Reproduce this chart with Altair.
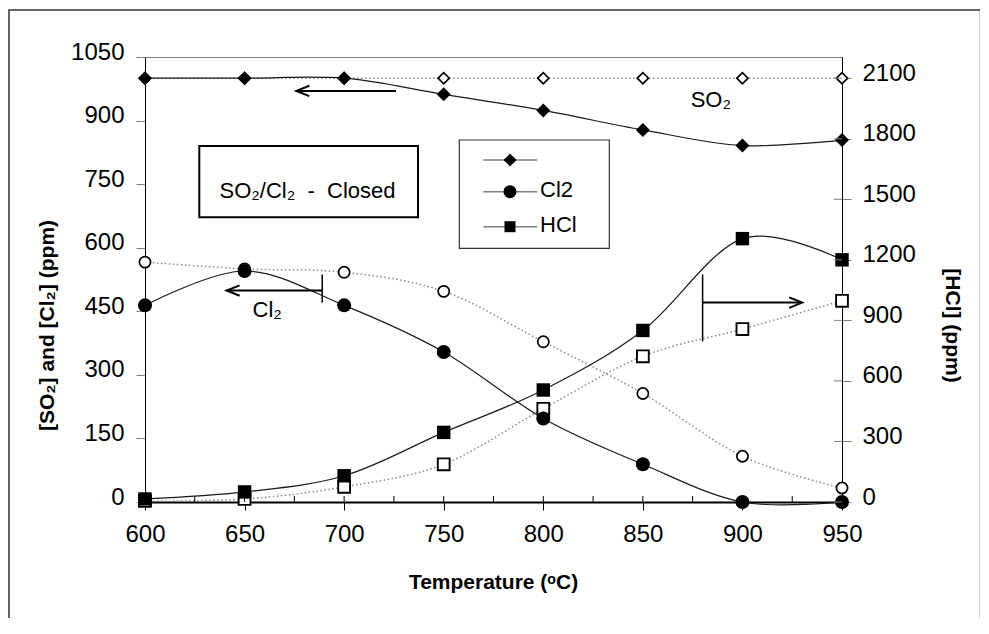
import altair as alt
import pandas as pd

# ---------------- data ----------------
temps = [600, 650, 700, 750, 800, 850, 900, 950]
so2_filled = [1000, 1000, 1000, 962, 924, 878, 841, 854]
so2_hollow = [1000, 1000, 1000, 1000, 1000, 1000, 1000, 1000]
cl2_filled = [464, 545, 464, 354, 197, 89, 0, 0]
cl2_hollow = [566, 550, 542, 497, 378, 256, 108, 33]
hcl_filled = [15, 50, 130, 345, 555, 850, 1305, 1200]
hcl_hollow = [5, 15, 75, 187, 462, 722, 857, 997]

x_ticks = [600, 650, 700, 750, 800, 850, 900, 950]
x_minor = [625, 675, 725, 775, 825, 875, 925]
left_ticks = [0, 150, 300, 450, 600, 750, 900, 1050]
right_ticks = [0, 300, 600, 900, 1200, 1500, 1800, 2100]
x_domain = [600, 950]
left_domain = [0, 1050]
right_domain = [0, 2205]

# annotation arrows (temperature from, temperature to, level)
so2_arrow = {"T": [676], "T2": [726], "v": [970]}
cl2_arrow = {"T": [641], "T2": [689], "v": [499]}
cl2_bar = {"T": [689], "v": [471], "v2": [537]}
hcl_arrow = {"T": [880], "T2": [930], "v": [988]}
hcl_bar = {"T": [880], "v": [796], "v2": [1128]}
ann_text = ["SO\u2082", "Cl\u2082"]
ann_T = [874, 654]
ann_v = [932, 437]

legend_labels = ["", "Cl2", "HCl"]
legend_shapes = ["diamond", "circle", "square"]
legend_sizes = [169, 169, 121]
box_text = "SO\u2082/Cl\u2082\u00a0 -\u00a0 Closed"

FONT = "Liberation Sans, Arial, DejaVu Sans"

# ---------------- frames ----------------
rows = []
for name, f_vals, h_vals in [("SO2", so2_filled, so2_hollow), ("Cl2", cl2_filled, cl2_hollow)]:
    for t, f, h in zip(temps, f_vals, h_vals):
        rows.append({"T": t, "v": f, "series": name, "kind": "filled"})
        rows.append({"T": t, "v": h, "series": name, "kind": "hollow"})
left_df = pd.DataFrame(rows)
hcl_df = pd.DataFrame({"T": temps * 2, "v": hcl_filled + hcl_hollow,
                       "kind": ["filled"] * len(temps) + ["hollow"] * len(temps)})
one = pd.DataFrame({"k": [0]})

x_axis = alt.Axis(values=x_ticks, format="d", title="Temperature (\u1d52C)",
                  tickSize=8, tickColor="black", tickWidth=1,
                  domainColor="black", domainWidth=2,
                  labelFontSize=24, labelPadding=12, labelColor="black",
                  labelFlush=False, labelOverlap=False, grid=False,
                  titleFontSize=21, titleFontWeight="bold", titleColor="black",
                  titleX=348, titleY=80, titleAlign="center", titleBaseline="middle")
left_axis = alt.Axis(values=left_ticks, format="d", orient="left",
                     title="[SO\u2082] and [Cl\u2082] (ppm)",
                     tickSize=9, tickColor="#808080", tickWidth=1,
                     domainColor="black", domainWidth=1,
                     labelFontSize=24, labelPadding=12, labelColor="black", labelOffset=-5,
                     labelOverlap=False, grid=False,
                     titleFontSize=21, titleFontWeight="bold", titleColor="black",
                     titleX=-98, titleY=268, titleAngle=270,
                     titleAlign="center", titleBaseline="middle")
right_axis = alt.Axis(values=right_ticks, format="d", orient="right",
                      title="[HCl] (ppm)",
                      tickSize=9, tickColor="#808080", tickWidth=1,
                      domainColor="black", domainWidth=1,
                      labelFontSize=24, labelPadding=11, labelColor="black", labelOffset=-5,
                      labelOverlap=False, grid=False,
                      titleFontSize=21, titleFontWeight="bold", titleColor="black",
                      titleX=109, titleY=268, titleAngle=90,
                      titleAlign="center", titleBaseline="middle")


def X(field="T"):
    # the same (shared) x axis definition in every layer so that it merges cleanly
    return alt.X(f"{field}:Q", scale=alt.Scale(domain=x_domain, nice=False, zero=False), axis=x_axis)


def YL(field="v", axis=None):
    return alt.Y(f"{field}:Q", scale=alt.Scale(domain=left_domain, nice=False, zero=False), axis=axis)


def YR(field="v", axis=None):
    return alt.Y(f"{field}:Q", scale=alt.Scale(domain=right_domain, nice=False, zero=False), axis=axis)


left_shape = alt.Shape("series:N", scale=alt.Scale(domain=["SO2", "Cl2"], range=["diamond", "circle"]), legend=None)

layers = []

# outer frame (unfilled)
layers.append(alt.Chart(one).mark_rect(fill="white", fillOpacity=0, stroke="#333333", strokeWidth=1.5).encode(
    x=alt.value(-136), x2=alt.value(835.5), y=alt.value(-47), y2=alt.value(640)))

# dotted lines
layers.append(alt.Chart(left_df).transform_filter("datum.kind == 'hollow'").mark_line(
    interpolate="cardinal", color="#8a8a8a", strokeWidth=1.5, strokeDash=[1.5, 2.5]).encode(
    x=X(), y=YL(axis=left_axis), detail="series:N"))
layers.append(alt.Chart(hcl_df).transform_filter("datum.kind == 'hollow'").mark_line(
    interpolate="cardinal", color="#8a8a8a", strokeWidth=1.5, strokeDash=[1.5, 2.5]).encode(
    x=X(), y=YR(axis=right_axis)))

# hollow markers
layers.append(alt.Chart(left_df).transform_filter("datum.kind == 'hollow'").mark_point(
    filled=True, fill="white", stroke="black", strokeWidth=1.7, opacity=1, size=125).encode(
    x=X(), y=YL(), shape=left_shape))
layers.append(alt.Chart(hcl_df).transform_filter("datum.kind == 'hollow'").mark_point(
    shape="square", filled=True, fill="white", stroke="black", strokeWidth=1.9, opacity=1, size=140).encode(
    x=X(), y=YR()))

# solid lines
layers.append(alt.Chart(left_df).transform_filter("datum.kind == 'filled'").mark_line(
    interpolate="cardinal", color="#1a1a1a", strokeWidth=1.2).encode(
    x=X(), y=YL(), detail="series:N"))
layers.append(alt.Chart(hcl_df).transform_filter("datum.kind == 'filled'").mark_line(
    interpolate="cardinal", color="#1a1a1a", strokeWidth=1.2).encode(
    x=X(), y=YR()))

# filled markers
layers.append(alt.Chart(left_df).transform_filter("datum.kind == 'filled'").mark_point(
    filled=True, color="black", opacity=1, size=196).encode(
    x=X(), y=YL(), shape=left_shape))
layers.append(alt.Chart(hcl_df).transform_filter("datum.kind == 'filled'").mark_point(
    shape="square", filled=True, color="black", opacity=1, size=180).encode(
    x=X(), y=YR()))

# minor x ticks (inside) and inner halves of right ticks
layers.append(alt.Chart(pd.DataFrame({"T": x_ticks + x_minor})).mark_tick(
    orient="vertical", size=6, thickness=1, color="black", yOffset=-3, opacity=1).encode(
    x=X(), y=alt.value(445)))
layers.append(alt.Chart(pd.DataFrame({"v": right_ticks})).mark_tick(
    orient="horizontal", size=8, thickness=1, color="#808080", xOffset=-4, opacity=1).encode(
    x=alt.value(697), y=YR()))

# arrows
layers.append(alt.Chart(pd.DataFrame(so2_arrow)).mark_rule(color="black", strokeWidth=2).encode(
    x=X(), x2="T2:Q", y=YL()))
layers.append(alt.Chart(pd.DataFrame(so2_arrow)).mark_point(
    shape="M2,-0.8L0,0L2,0.8", filled=False, color="black", strokeWidth=2, size=169, opacity=1).encode(
    x=X(), y=YL()))
layers.append(alt.Chart(pd.DataFrame(cl2_arrow)).mark_rule(color="black", strokeWidth=2).encode(
    x=X(), x2="T2:Q", y=YL()))
layers.append(alt.Chart(pd.DataFrame(cl2_bar)).mark_rule(color="black", strokeWidth=1.5).encode(
    x=X(), y=YL(), y2="v2:Q"))
layers.append(alt.Chart(pd.DataFrame(cl2_arrow)).mark_point(
    shape="M2,-0.8L0,0L2,0.8", filled=False, color="black", strokeWidth=2, size=169, opacity=1).encode(
    x=X(), y=YL()))
layers.append(alt.Chart(pd.DataFrame(hcl_arrow)).mark_rule(color="black", strokeWidth=2).encode(
    x=X(), x2="T2:Q", y=YR()))
layers.append(alt.Chart(pd.DataFrame(hcl_bar)).mark_rule(color="black", strokeWidth=1.5).encode(
    x=X(), y=YR(), y2="v2:Q"))
layers.append(alt.Chart(pd.DataFrame(hcl_arrow)).mark_point(
    shape="M-2,-0.8L0,0L-2,0.8", filled=False, color="black", strokeWidth=2, size=169, opacity=1).encode(
    x=X("T2"), y=YR()))

# annotation labels
layers.append(alt.Chart(pd.DataFrame({"T": ann_T, "v": ann_v, "txt": ann_text})).mark_text(
    font=FONT, fontSize=22, color="black", align="left", baseline="alphabetic").encode(
    x=X(), y=YL(), text="txt:N"))

# text box
layers.append(alt.Chart(one).mark_rect(fill="white", stroke="black", strokeWidth=2).encode(
    x=alt.value(54.3), x2=alt.value(273), y=alt.value(89), y2=alt.value(160.3)))
layers.append(alt.Chart(one).mark_text(
    text=box_text, font=FONT, fontSize=22, color="black", align="center", baseline="alphabetic").encode(
    x=alt.value(162.5), y=alt.value(141)))

# legend
layers.append(alt.Chart(one).mark_rect(fill="white", stroke="#333333", strokeWidth=1.2).encode(
    x=alt.value(314.3), x2=alt.value(464.3), y=alt.value(83), y2=alt.value(191.3)))
row_y = [103, 134.7, 169.7]
for lab, shp, sz, ry in zip(legend_labels, legend_shapes, legend_sizes, row_y):
    layers.append(alt.Chart(one).mark_rule(color="#808080", strokeWidth=1.5).encode(
        x=alt.value(338.3), x2=alt.value(392.3), y=alt.value(ry)))
    layers.append(alt.Chart(one).mark_point(
        shape=shp, filled=True, color="black", opacity=1, size=sz).encode(
        x=alt.value(365), y=alt.value(ry)))
    if lab:
        layers.append(alt.Chart(one).mark_text(
            text=lab, font=FONT, fontSize=22, color="black", align="left", baseline="middle").encode(
            x=alt.value(395), y=alt.value(ry - 2)))

chart = alt.layer(*layers).resolve_scale(y="independent").properties(
    width=697, height=445,
    padding={"left": 137, "top": 49, "right": 138, "bottom": 116},
    autosize=alt.AutoSizeParams(type="none"),
).configure(font=FONT).configure_view(stroke="#808080", strokeWidth=1).configure_axis(
    labelFont=FONT, titleFont=FONT)

chart.save("out.html", embed_options={"renderer": "svg", "actions": False})
